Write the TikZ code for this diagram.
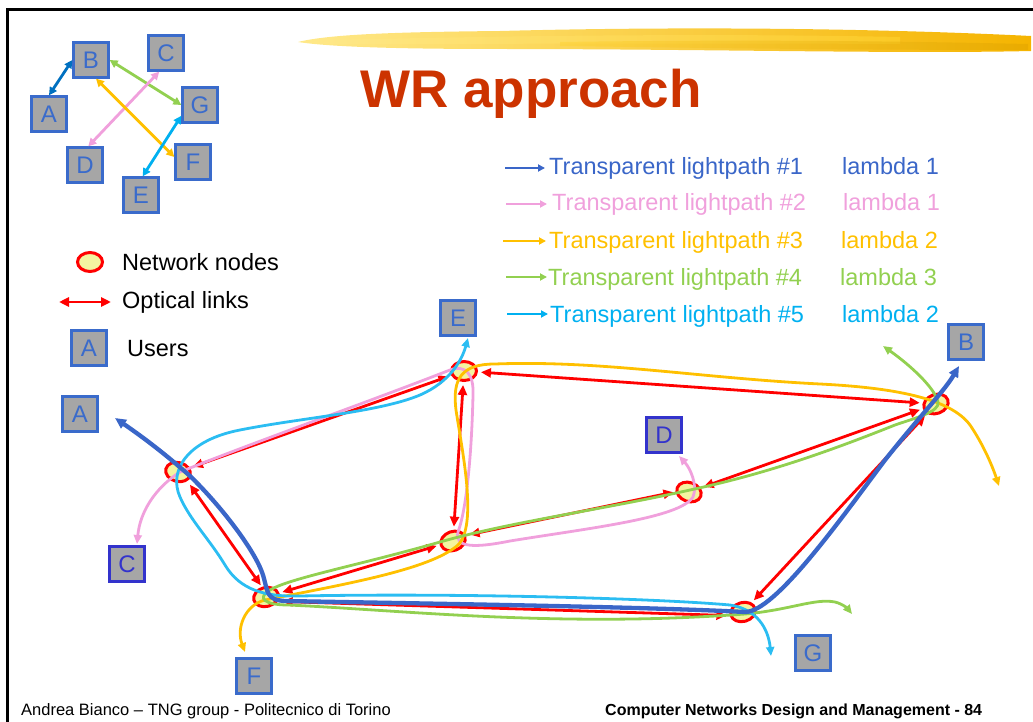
\documentclass[tikz,border=0pt]{standalone}
\usepackage{fontspec}
\setmainfont{Liberation Sans}
\usetikzlibrary{arrows.meta,shapes.geometric}
\definecolor{userblue}{HTML}{3A6BCB}
\definecolor{userdark}{HTML}{3333CC}
\definecolor{usergray}{HTML}{A6A6A6}
\definecolor{linkred}{HTML}{FF0000}
\definecolor{nodeyellow}{HTML}{F4F4A0}
\definecolor{titlered}{HTML}{CC3300}
\definecolor{pblue}{HTML}{3A66C8}
\definecolor{ppink}{HTML}{F0A0DC}
\definecolor{porange}{HTML}{FFC000}
\definecolor{pgreen}{HTML}{92D050}
\definecolor{pcyan}{HTML}{2BBDF2}
\definecolor{tcyan}{HTML}{00B0F0}
\definecolor{abblue}{HTML}{0070C0}
\definecolor{brushL}{HTML}{FFE98A}
\definecolor{brushM}{HTML}{FFD22E}
\definecolor{brushR}{HTML}{F5B400}
\begin{document}
\begin{tikzpicture}[x=1pt,y=-1pt,
  user/.style={draw=userblue, fill=usergray, line width=2.8pt, minimum width=34.5pt, minimum height=34.5pt, inner sep=0pt, text=userblue, font=\fontsize{24}{24}\selectfont},
  userd/.style={user, draw=userdark, text=userdark},
  netnode/.style={ellipse, draw=linkred, fill=nodeyellow, line width=3pt, minimum width=25pt, minimum height=19pt, inner sep=0pt},
  link/.style={draw=linkred, line width=2.8pt, {Triangle[length=10pt,width=9pt]}-{Triangle[length=10pt,width=9pt]}, shorten <=3pt, shorten >=3pt},
  lp/.style={line width=2.8pt, {Triangle[length=9pt,width=8pt]}-{Triangle[length=9pt,width=8pt]}},
  lp1/.style={draw=pblue, line width=4.3pt, {Triangle[length=11pt,width=10pt]}-{Triangle[length=11pt,width=10pt]}},
  lp2/.style={lp, draw=ppink},
  lp3/.style={lp, draw=porange},
  lp4/.style={lp, draw=pgreen},
  lp5/.style={lp, draw=pcyan},
  small/.style={line width=2.8pt, {Triangle[length=8pt,width=8pt]}-{Triangle[length=8pt,width=8pt]}},
  legtext/.style={anchor=base west, inner sep=0pt, font=\fontsize{23.5}{28}\selectfont},
  legarrow/.style={line width=2.8pt, -{Triangle[length=7pt,width=7pt]}}
]
\useasboundingbox (0,0) rectangle (1033,722);
% frame
\draw[line width=3pt] (7,722) -- (7,9.5) -- (1033,9.5);
% brush stroke
\shade[left color=brushL, right color=brushR] (298,42) .. controls (330,34) and (400,32) .. (500,31) .. controls (650,27) and (850,27) .. (1031,36) -- (1031,51) .. controls (900,54) and (700,49) .. (500,49) .. controls (400,49) and (330,47) .. (298,42) -- cycle;
\shade[left color=brushL, right color=brushM, opacity=0.6] (330,40) .. controls (500,36) and (700,33) .. (900,37) -- (900,44) .. controls (700,43) and (500,44) .. (330,44) -- cycle;
\shade[left color=brushM, right color=brushR!90!black, opacity=0.45] (560,42) .. controls (700,40) and (850,40) .. (1028,44) -- (1028,50) .. controls (850,50) and (700,48) .. (560,46) -- cycle;
% title
\node[anchor=base west, inner sep=0pt, text=titlered, font=\fontsize{53}{53}\selectfont\bfseries] (title) at (360,108) {WR approach};

% small user graph
\node[user] (sB) at (91,60) {B};
\node[user] (sC) at (166,53) {C};
\node[user] (sA) at (49,114) {A};
\node[user] (sG) at (200,105) {G};
\node[user] (sD) at (85,165) {D};
\node[user] (sF) at (193,162) {F};
\node[user] (sE) at (141,195) {E};
\draw[small, abblue] (sA.north) -- (sB.west);
\draw[small, pgreen] (sB.east) -- (sG.west);
\draw[small, ppink] (sC.250) -- (sD.80);
\draw[small, porange] (sB.285) -- (sF.165);
\draw[small, tcyan] (sG.210) -- (sE.85);

% right legend
\coordinate (la1) at (505,168); \coordinate (lb1) at (545,168);
\coordinate (la2) at (506,204); \coordinate (lb2) at (547,204);
\coordinate (la3) at (503,241); \coordinate (lb3) at (546,241);
\coordinate (la4) at (506,277); \coordinate (lb4) at (547,277);
\coordinate (la5) at (507,314); \coordinate (lb5) at (548,314);
\draw[legarrow, pblue] (la1) -- (lb1);
\draw[legarrow, ppink] (la2) -- (lb2);
\draw[legarrow, porange] (la3) -- (lb3);
\draw[legarrow, pgreen] (la4) -- (lb4);
\draw[legarrow, tcyan] (la5) -- (lb5);
\node[legtext, text=pblue] (t1) at (549,175) {Transparent lightpath \#1};
\node[legtext, text=pblue] (l1) at (842,175) {lambda 1};
\node[legtext, text=ppink] (t2) at (552,211) {Transparent lightpath \#2};
\node[legtext, text=ppink] (l2) at (843,211) {lambda 1};
\node[legtext, text=porange] (t3) at (549,248) {Transparent lightpath \#3};
\node[legtext, text=porange] (l3) at (841,248) {lambda 2};
\node[legtext, text=pgreen] (t4) at (548,285) {Transparent lightpath \#4};
\node[legtext, text=pgreen] (l4) at (840,285) {lambda 3};
\node[legtext, text=tcyan] (t5) at (550,322) {Transparent lightpath \#5};
\node[legtext, text=tcyan] (l5) at (842,322) {lambda 2};

% left legend
\node[netnode] (legnode) at (90,262) {};
\node[legtext] (legnodet) at (122,270) {Network nodes};
\coordinate (lra) at (59,302); \coordinate (lrb) at (111,302);
\draw[draw=linkred, line width=2.8pt, {Triangle[length=10pt,width=9pt]}-{Triangle[length=10pt,width=9pt]}] (lra) -- (lrb);
\node[legtext] (leglinkt) at (122,308) {Optical links};
\node[user] (leguser) at (89,348) {A};
\node[legtext] (legusert) at (127,356) {Users};

% network users
\node[user] (uA) at (80,414) {A};
\node[userd] (uC) at (127,564) {C};
\node[user] (uE) at (458,318) {E};
\node[userd] (uD) at (664,435) {D};
\node[user] (uB) at (966,342) {B};
\node[user] (uG) at (813,653) {G};
\node[user] (uF) at (254,676) {F};

% network nodes
\node[netnode, rotate=-15] (n1) at (178,472) {};
\node[netnode, rotate=15] (n2) at (266,597) {};
\node[netnode] (n3) at (464,371) {};
\node[netnode, rotate=20] (n4) at (453,541) {};
\node[netnode, rotate=-20] (n5) at (689,492) {};
\node[netnode, rotate=20] (n6) at (936,404) {};
\node[netnode, rotate=15] (n7) at (743,612) {};

% optical links
\draw[link] (n1) -- (n3);
\draw[link, transform canvas={xshift=3pt}] (n1) -- (n2);
\draw[link] (n3) -- (n4);
\draw[link] (n4) -- (n2);
\draw[link, transform canvas={yshift=3pt}] (n4) -- (n5);
\draw[link] (n5) -- (n6);
\draw[link] (n3) -- (n6);
\draw[link] (n6) -- (n7);
\draw[link, transform canvas={yshift=-4pt}] (n2) -- (n7);

% lightpath end points
\coordinate (p1a) at (115,418); \coordinate (p1b) at (959,366);
\coordinate (p2a) at (137,544); \coordinate (p2b) at (679,456);
\coordinate (p3a) at (245,652); \coordinate (p3b) at (999,486);
\coordinate (p4a) at (883,346); \coordinate (p4b) at (852,614);
\coordinate (p5a) at (468,338); \coordinate (p5b) at (771,656);

% lightpath #2 pink
\draw[lp2] (p2a) .. controls (140,512) and (155,488) .. (180,472) .. controls (260,440) and (360,405) .. (450,370) .. controls (466,364) and (474,375) .. (473,395) .. controls (472,440) and (468,505) .. (458,532) .. controls (454,548) and (475,548) .. (510,541) .. controls (590,528) and (680,518) .. (693,497) .. controls (698,485) and (690,468) .. (p2b);
% lightpath #3 orange
\draw[lp3] (p3a) .. controls (236,628) and (245,605) .. (265,600) .. controls (340,585) and (430,570) .. (458,545) .. controls (478,525) and (462,450) .. (456,410) .. controls (452,378) and (462,364) .. (495,364) .. controls (600,360) and (700,378) .. (820,384) .. controls (900,388) and (955,400) .. (972,428) .. controls (985,448) and (993,468) .. (p3b);
% lightpath #4 green
\draw[lp4] (p4a) .. controls (910,365) and (935,388) .. (938,402) .. controls (940,412) and (915,418) .. (895,425) .. controls (820,455) and (760,475) .. (690,490) .. controls (600,510) and (510,522) .. (440,542) .. controls (360,565) and (290,578) .. (270,590) .. controls (256,598) and (265,605) .. (288,605) .. controls (400,610) and (560,628) .. (745,614) .. controls (790,610) and (815,598) .. (835,602) .. controls (843,604) and (848,609) .. (p4b);
% lightpath #5 cyan
\draw[lp5] (p5a) .. controls (462,360) and (450,382) .. (420,395) .. controls (380,412) and (300,418) .. (240,430) .. controls (188,440) and (168,470) .. (180,497) .. controls (190,520) and (210,540) .. (225,565) .. controls (240,590) and (265,597) .. (300,596) .. controls (450,593) and (650,598) .. (730,605) .. controls (762,610) and (769,635) .. (p5b);
% lightpath #1 blue
\draw[lp1] (p1a) .. controls (150,442) and (172,460) .. (190,476) .. controls (220,505) and (255,550) .. (263,575) .. controls (268,592) and (266,600) .. (285,601) .. controls (450,604) and (650,607) .. (745,612) .. controls (775,612) and (840,520) .. (885,460) .. controls (925,410) and (945,390) .. (p1b);

% footer
\node[anchor=base west, inner sep=0pt, font=\fontsize{16.5}{19}\selectfont] (foot1) at (21,715) {Andrea Bianco -- TNG group - Politecnico di Torino};
\node[anchor=base west, inner sep=0pt, font=\fontsize{16}{19}\selectfont\bfseries] (foot2) at (605,715) {Computer Networks Design and Management - 84};
\end{tikzpicture}
\end{document}
